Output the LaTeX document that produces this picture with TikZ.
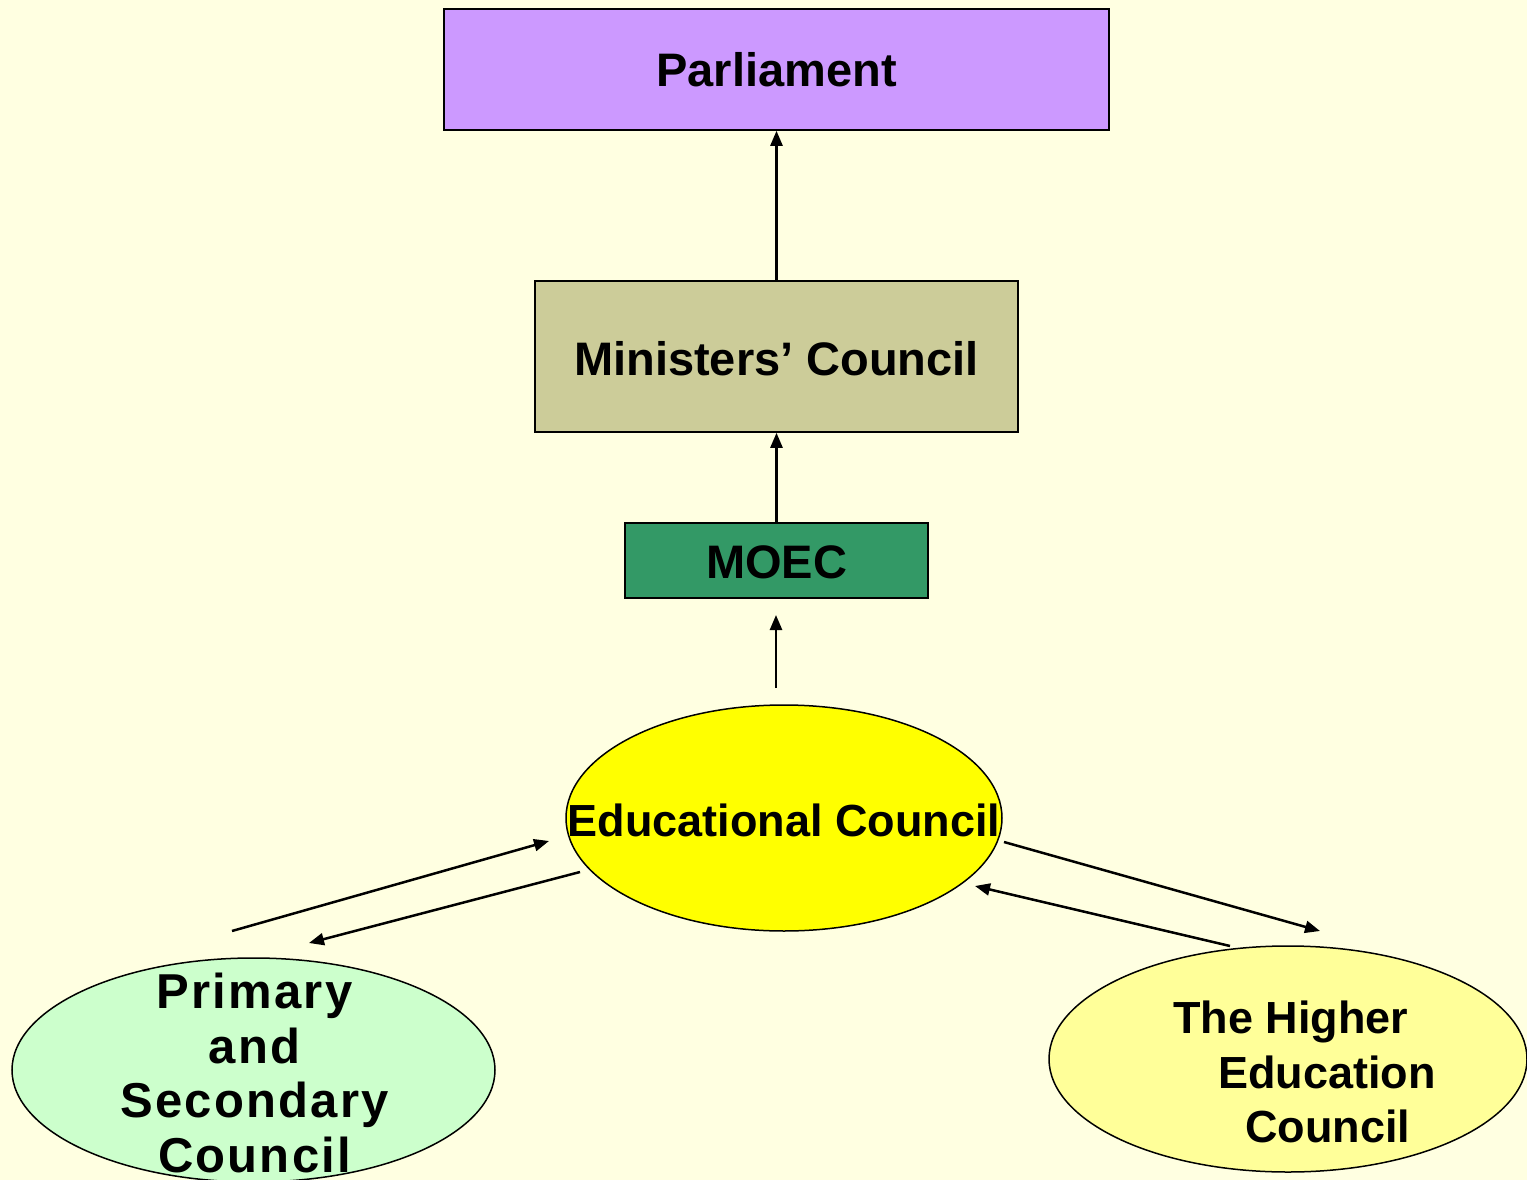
\documentclass[tikz,border=0pt]{standalone}
\usepackage{fontspec}
\setmainfont{Liberation Sans}
\usetikzlibrary{shapes.geometric,arrows.meta}
\definecolor{bgc}{HTML}{FFFFE1}
\definecolor{parlc}{HTML}{CC99FF}
\definecolor{minc}{HTML}{CCCC99}
\definecolor{moecc}{HTML}{339966}
\definecolor{educ}{HTML}{FFFF00}
\definecolor{primc}{HTML}{CCFFCC}
\definecolor{highc}{HTML}{FFFF99}
\tikzset{
  boxnode/.style={draw=black, line width=1.6pt, rectangle, inner sep=0pt},
  ellnode/.style={draw=black, line width=1.5pt, ellipse, inner sep=0pt},
  lbl/.style={font=\bfseries\fontsize{47}{56}\selectfont, inner sep=0pt},
  arr/.style={line width=2.5pt, -{Triangle[length=15pt,width=12pt]}}
}
\begin{document}
\begin{tikzpicture}[x=1pt,y=-1pt]
\fill[bgc] (0,0) rectangle (1527,1180);
\useasboundingbox (0,0) rectangle (1527,1180);
\clip (0,0) rectangle (1527,1180);
% boxes
\node[boxnode, fill=parlc, minimum width=665pt, minimum height=121pt] (parl) at (776.5,69.5) {};
\node[lbl] (parlT) at (776.5,70) {Parliament};
\node[boxnode, fill=minc, minimum width=483pt, minimum height=151pt] (min) at (776.5,356.5) {};
\node[lbl] (minT) at (776.5,359) {Ministers’ Council};
\node[boxnode, fill=moecc, minimum width=303pt, minimum height=75pt] (moec) at (776.5,560.5) {};
\node[lbl] (moecT) at (776.5,562) {MOEC};
% ellipses
\node[ellnode, fill=educ, minimum width=436pt, minimum height=226pt] (edu) at (784,818) {};
\node[lbl, font=\bfseries\fontsize{45}{54}\selectfont] (eduT) at (784,820) {Educational Council};
\node[ellnode, fill=primc, minimum width=483pt, minimum height=224pt] (prim) at (253.5,1070) {};
\node[lbl, font=\bfseries\fontsize{49}{54.5}\selectfont\addfontfeature{LetterSpace=4.5}, align=center] (primT) at (254.5,1073) {Primary\\and\\Secondary\\Council};
\node[ellnode, fill=highc, minimum width=478pt, minimum height=226pt] (high) at (1288,1059) {};
\node[lbl, font=\bfseries\fontsize{45}{54.5}\selectfont, align=left, anchor=west] (highT) at (1173,1072) {The Higher\\\hspace*{45pt}Education\\\hspace*{72pt}Council};
% connectors
\draw[arr] (min.north) -- (parl.south);
\draw[arr] (moec.north) -- (min.south);
\coordinate (eduTop) at (776,688);
\coordinate (moecBot) at (776,615);
\draw[arr] (eduTop) -- (moecBot);
\coordinate (pOut) at (232,931);
\coordinate (eIn1) at (549,841);
\coordinate (eOut1) at (580,872);
\coordinate (pIn) at (309,943);
\coordinate (eOut2) at (1004,842);
\coordinate (hIn) at (1320,931);
\coordinate (hOut) at (1230,946);
\coordinate (eIn2) at (975,886);
\draw[arr] (pOut) -- (eIn1);
\draw[arr] (eOut1) -- (pIn);
\draw[arr] (eOut2) -- (hIn);
\draw[arr] (hOut) -- (eIn2);
\end{tikzpicture}
\end{document}
